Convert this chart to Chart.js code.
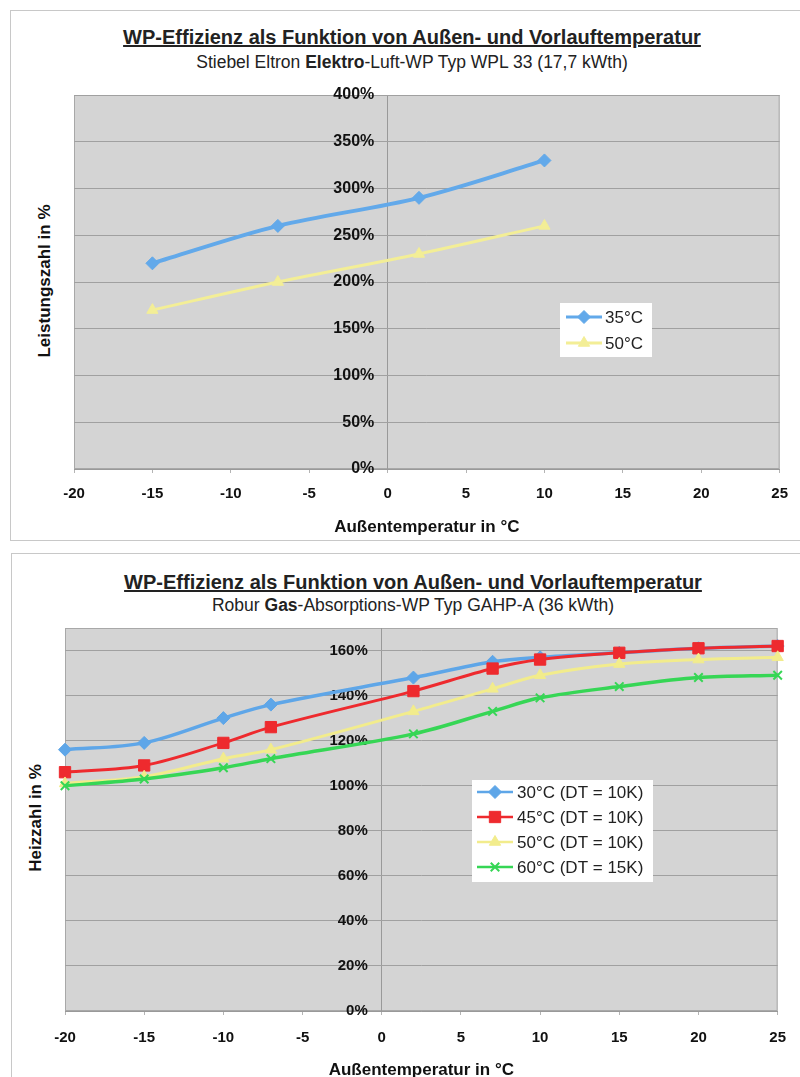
<!DOCTYPE html>
<html>
<head>
<meta charset="utf-8">
<script src="https://cdn.jsdelivr.net/npm/chart.js@4.4.1/dist/chart.umd.min.js"></script>
<style>
  body { margin: 0; background: #fff; width: 800px; height: 1077px; overflow: hidden; position: relative;
         font-family: "Liberation Sans", Arial, sans-serif; color: #222; }
  .frame { position: absolute; border: 1px solid #c8c8c8; box-sizing: border-box; }
  .title { position: absolute; left: 0; width: 100%; text-align: center; font-weight: bold; font-size: 20px;
           line-height: 24px; text-decoration: underline; white-space: nowrap; }
  .subtitle { position: absolute; left: 0; width: 100%; text-align: center; font-size: 17.5px;
              line-height: 22px; white-space: nowrap; }
  .ytitle { position: absolute; font-weight: bold; font-size: 17px; white-space: nowrap; color: #111;
            transform: translate(-50%, -50%) rotate(-90deg); }
  canvas { position: absolute; }
</style>
</head>
<body>

<div class="frame" style="left:10px; top:10px; width:804px; height:531px;">
  <div class="title" style="top:14px;">WP-Effizienz als Funktion von Außen- und Vorlauftemperatur</div>
  <div class="subtitle" style="top:40px;">Stiebel Eltron <b>Elektro</b>-Luft-WP Typ WPL 33 (17,7 kWth)</div>
</div>
<div class="ytitle" style="left:45px; top:281px;">Leistungszahl in %</div>
<canvas id="chart1" width="790" height="460" style="left:10px; top:80px;"></canvas>

<div class="frame" style="left:11px; top:553px; width:804px; height:540px;">
  <div class="title" style="top:16px;">WP-Effizienz als Funktion von Außen- und Vorlauftemperatur</div>
  <div class="subtitle" style="top:40px;">Robur <b>Gas</b>-Absorptions-WP Typ GAHP-A (36 kWth)</div>
</div>
<div class="ytitle" style="left:36px; top:818px;">Heizzahl in %</div>
<canvas id="chart2" width="789" height="462" style="left:11px; top:619px;"></canvas>

<script>
// Diagramm 1: Elektro-Luft-WP (Leistungszahl in %)
const tempElektro = [-15, -7, 2, 10];
const cop35 = [220, 260, 290, 330];
const cop50 = [170, 200, 230, 260];
const labels1 = ['35°C', '50°C'];

// Diagramm 2: Gas-Absorptions-WP (Heizzahl in %)
const tempGas = [-20, -15, -10, -7, 2, 7, 10, 15, 20, 25];
const gue30 = [116, 119, 130, 136, 148, 155, 157, 159, 161, 162];
const gue45 = [106, 109, 119, 126, 142, 152, 156, 159, 161, 162];
const gue50 = [101, 104, 112, 116, 133, 143, 149, 154, 156, 157];
const gue60 = [100, 103, 108, 112, 123, 133, 139, 144, 148, 149];
const labels2 = ['30°C (DT = 10K)', '45°C (DT = 10K)', '50°C (DT = 10K)', '60°C (DT = 15K)'];

// Achsen
const xTicks = [-20, -15, -10, -5, 0, 5, 10, 15, 20, 25];
const yTicks1 = [0, 50, 100, 150, 200, 250, 300, 350, 400];
const yTicks2 = [0, 20, 40, 60, 80, 100, 120, 140, 160];

Chart.defaults.font.family = '"Liberation Sans", Arial, sans-serif';
Chart.defaults.color = '#111';

const toPoints = (xs, ys) => xs.map((x, i) => ({ x: x, y: ys[i] }));

// grauer Plotbereich mit Rahmen
const plotBg = {
    id: 'plotBg',
    beforeDraw(chart) {
        const { ctx, chartArea: a } = chart;
        ctx.save();
        ctx.fillStyle = '#d4d4d4';
        ctx.fillRect(a.left, a.top, a.right - a.left, a.bottom - a.top);
        ctx.strokeStyle = '#a8a8a8';
        ctx.lineWidth = 1;
        ctx.strokeRect(a.left + 0.5, a.top + 0.5, a.right - a.left - 1, a.bottom - a.top - 1);
        ctx.restore();
    }
};

// Legende als weisse Box im Plot
const boxLegend = {
    id: 'boxLegend',
    afterDraw(chart, args, opts) {
        const ctx = chart.ctx;
        ctx.save();
        ctx.fillStyle = '#fff';
        ctx.fillRect(opts.x, opts.y, opts.w, opts.h);
        chart.data.datasets.forEach((ds, i) => {
            const y = opts.rows[i];
            ctx.strokeStyle = ds.borderColor;
            ctx.lineWidth = opts.lineWidth;
            ctx.beginPath();
            ctx.moveTo(opts.lineX1, y);
            ctx.lineTo(opts.lineX2, y);
            ctx.stroke();
            ctx.fillStyle = ds.pointBackgroundColor;
            ctx.strokeStyle = ds.pointBorderColor;
            ctx.lineWidth = ds.pointBorderWidth;
            Chart.helpers.drawPoint(ctx, {
                pointStyle: ds.pointStyle, rotation: 0,
                radius: ds.pointRadius, borderWidth: ds.pointBorderWidth
            }, (opts.lineX1 + opts.lineX2) / 2, y);
            ctx.fillStyle = '#222';
            ctx.font = opts.font;
            ctx.textAlign = 'left';
            ctx.textBaseline = 'middle';
            ctx.fillText(ds.label, opts.textX, y + 1);
        });
        ctx.restore();
    }
};

function series(label, xs, ys, color, style, radius, width, order) {
    return {
        label: label,
        data: toPoints(xs, ys),
        borderColor: color,
        backgroundColor: color,
        borderWidth: width,
        pointStyle: style,
        pointRadius: radius,
        pointBackgroundColor: color,
        pointBorderColor: color,
        pointBorderWidth: style === 'crossRot' ? 2 : 1,
        tension: 0.33,
        clip: false,
        order: order
    };
}

// x-Achse; die senkrechte Linie bei 0 kommt aus dem x-Gitter
function xScale(height, pad, titlePad) {
    return {
        type: 'linear',
        min: -20,
        max: 25,
        afterBuildTicks: s => { s.ticks = xTicks.map(v => ({ value: v })); },
        afterFit: s => { s.height = height; },
        grid: {
            drawOnChartArea: true, drawTicks: true, tickLength: 4,
            color: c => (c.tick && c.tick.value === 0 ? '#999' : 'rgba(0,0,0,0)'),
            tickColor: '#b4b4b4'
        },
        border: { color: '#999' },
        ticks: { padding: pad, font: { size: 15, weight: 'bold' }, callback: v => String(v) },
        title: { display: true, text: 'Außentemperatur in °C', font: { size: 17, weight: 'bold' },
                 padding: { top: 0, bottom: titlePad } }
    };
}

// y-Achse mit Beschriftung links neben der 0-Linie
function yScale(max, tickList, fontSize, at) {
    return {
        type: 'linear',
        min: 0,
        max: max,
        position: { x: at },
        afterBuildTicks: s => { s.ticks = tickList.map(v => ({ value: v })); },
        grid: { color: '#a0a0a0', drawTicks: false },
        border: { display: false },
        ticks: { padding: 0, font: { size: fontSize, weight: 'bold' }, callback: v => v + '%' }
    };
}

new Chart(document.getElementById('chart1'), {
    type: 'line',
    data: {
        datasets: [
            series(labels1[0], tempElektro, cop35, '#62a9ea', 'rectRot', 6.5, 4, 1),
            series(labels1[1], tempElektro, cop50, '#f3ee96', 'triangle', 6.5, 3, 0)
        ]
    },
    options: {
        responsive: false,
        animation: false,
        layout: { padding: { left: 64, right: 18, top: 15, bottom: 0 } },
        scales: { x: xScale(71, 12, 2), y: yScale(400, yTicks1, 16, -0.85) },
        plugins: {
            legend: { display: false },
            tooltip: { enabled: false },
            boxLegend: { x: 550, y: 223, w: 92, h: 54, rows: [237, 263], lineX1: 556, lineX2: 592,
                         textX: 595, lineWidth: 3, font: '17px "Liberation Sans", Arial, sans-serif' }
        }
    },
    plugins: [plotBg, boxLegend]
});

new Chart(document.getElementById('chart2'), {
    type: 'line',
    data: {
        datasets: [
            series(labels2[0], tempGas, gue30, '#5ea6e8', 'rectRot', 6.5, 3.5, 3),
            series(labels2[1], tempGas, gue45, '#ee2a2e', 'rect', 8, 3, 2),
            series(labels2[2], tempGas, gue50, '#f2ec8c', 'triangle', 6.5, 3, 1),
            series(labels2[3], tempGas, gue60, '#36d655', 'crossRot', 6, 3.5, 0)
        ]
    },
    options: {
        responsive: false,
        animation: false,
        layout: { padding: { left: 54, right: 17, top: 8, bottom: 0 } },
        scales: { x: xScale(70, 14, 0), y: yScale(170, yTicks2, 15, -0.88) },
        plugins: {
            legend: { display: false },
            tooltip: { enabled: false },
            boxLegend: { x: 461, y: 161, w: 181, h: 102, rows: [173, 198, 223, 248], lineX1: 466, lineX2: 502,
                         textX: 506, lineWidth: 2.5, font: '17px "Liberation Sans", Arial, sans-serif' }
        }
    },
    plugins: [plotBg, boxLegend]
});
</script>
</body>
</html>
